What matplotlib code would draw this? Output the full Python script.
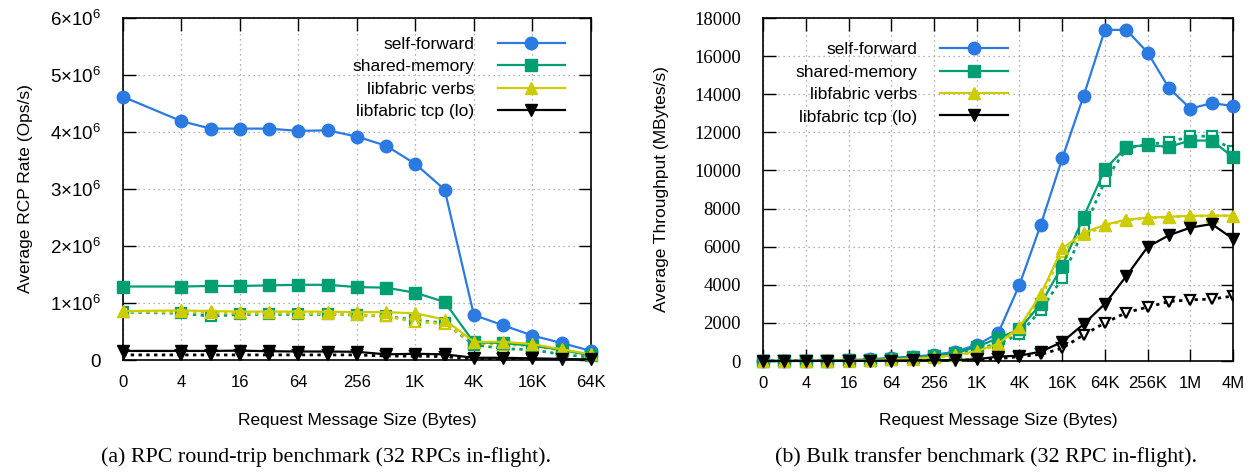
import matplotlib
matplotlib.use("Agg")
import matplotlib.pyplot as plt
import numpy as np

plt.rcParams['font.family'] = ['Liberation Sans', 'DejaVu Sans']
plt.rcParams['mathtext.fontset'] = 'custom'
plt.rcParams['mathtext.rm'] = 'Liberation Sans'
plt.rcParams['mathtext.it'] = 'Liberation Sans:italic'

# message sizes (bytes)
sizes_a = [0, 4, 8, 16, 32, 64, 128, 256, 512, 1024, 2048, 4096, 8192, 16384, 32768, 65536]
sizes_b = [0] + [2 ** k for k in range(1, 23)]

labels_a = ['0', '4', '16', '64', '256', '1K', '4K', '16K', '64K']
labels_b = ['0', '4', '16', '64', '256', '1K', '4K', '16K', '64K', '256K', '1M', '4M']

# (a) RPC rate, millions of ops/s
self_a = [4.62, 4.19, 4.06, 4.06, 4.06, 4.02, 4.03, 3.92, 3.76, 3.44, 2.99, 0.79, 0.61, 0.43, 0.30, 0.16]
shm_a = [1.29, 1.29, 1.30, 1.30, 1.31, 1.32, 1.32, 1.28, 1.27, 1.18, 1.02, 0.31, 0.30, 0.25, 0.18, 0.08]
shm_a_dash = [0.84, 0.82, 0.77, 0.80, 0.80, 0.80, 0.80, 0.79, 0.77, 0.70, 0.65, 0.27, 0.20, 0.18, 0.10, 0.05]
verbs_a = [0.86, 0.87, 0.86, 0.85, 0.85, 0.85, 0.85, 0.84, 0.84, 0.82, 0.71, 0.32, 0.32, 0.28, 0.19, 0.10]
verbs_a_dash = [0.85, 0.84, 0.83, 0.82, 0.82, 0.82, 0.81, 0.79, 0.77, 0.67, 0.64, 0.30, 0.27, 0.25, 0.17, 0.09]
tcp_a = [0.16, 0.16, 0.16, 0.165, 0.155, 0.15, 0.15, 0.145, 0.10, 0.11, 0.10, 0.04, 0.04, 0.03, 0.02, 0.01]
tcp_a_dash = [0.09, 0.09, 0.09, 0.09, 0.09, 0.09, 0.09, 0.09, 0.07, 0.07, 0.06, 0.02, 0.02, 0.015, 0.01, 0.005]

# (b) bulk throughput, MBytes/s
self_b = [3, 6, 12, 25, 45, 90, 170, 230, 320, 490, 840, 1460, 4000, 7160, 10630, 13910,
          17380, 17380, 16190, 14320, 13250, 13530, 13390]
shm_b = [2, 4, 8, 15, 30, 60, 110, 190, 280, 400, 750, 1190, 1670, 3000, 4980, 7560,
         10060, 11240, 11330, 11240, 11570, 11570, 10700]
shm_b_dash = [2, 4, 7, 14, 28, 55, 100, 170, 250, 350, 650, 900, 1400, 2670, 4340, 6900,
              9440, 11150, 11380, 11480, 11800, 11800, 11020]
verbs_b = [1, 3, 6, 12, 25, 45, 85, 130, 200, 300, 520, 900, 1790, 3500, 5910, 6720,
           7150, 7420, 7520, 7570, 7620, 7630, 7630]
verbs_b_dash = [1, 3, 6, 12, 24, 44, 80, 125, 190, 280, 480, 850, 1700, 3300, 5700, 6600,
                7100, 7400, 7500, 7560, 7600, 7620, 7620]
tcp_b = [1, 2, 3, 5, 8, 12, 20, 30, 40, 50, 90, 230, 280, 490, 1000, 1930,
         3000, 4450, 5990, 6600, 7000, 7190, 6410]
tcp_b_dash = [1, 2, 3, 4, 6, 10, 15, 22, 30, 40, 60, 120, 230, 350, 670, 1370,
              2000, 2540, 2830, 3120, 3210, 3250, 3410]

names = ['self-forward', 'shared-memory', 'libfabric verbs', 'libfabric tcp (lo)']
colors = ['#2a7ae2', '#009e73', '#cccc00', '#000000']
markers = ['o', 's', '^', 'v']
msizes = [9, 8.5, 8.5, 8.5]
FS = 12.5


def pos(sizes):
    return np.log2(np.maximum(np.array(sizes, dtype=float), 1))


def style(ax, xlabels, nx):
    ax.set_xlim(0, nx)
    ax.set_xticks(np.arange(0, nx + 1, 2))
    ax.set_xticklabels(xlabels)
    ax.tick_params(direction='in', length=9, width=1.0, top=True, right=True,
                   labelsize=12)
    ax.tick_params(axis='x', pad=11)
    ax.tick_params(axis='y', pad=16)
    ax.grid(True, linestyle=(0, (1, 3)), color='#999999', linewidth=0.9)
    for s in ax.spines.values():
        s.set_linewidth(1.2)
    ax.set_xlabel('Request Message Size (Bytes)', fontsize=FS, labelpad=16)


def draw(ax, x, solid, dashed):
    handles = []
    for i in range(4):
        if dashed[i] is not None:
            ax.plot(x, dashed[i], color=colors[i], linestyle=(0, (1.2, 1.6)), linewidth=2,
                    marker=markers[i], markersize=msizes[i] - 1.5, mfc='white',
                    mec=colors[i], mew=1.6)
        h, = ax.plot(x, solid[i], color=colors[i], linewidth=1.6, marker=markers[i],
                     markersize=msizes[i], label=names[i], clip_on=False, zorder=3)
        handles.append(h)
    return handles


def legend(ax, handles, anchor):
    ax.legend(handles=handles, loc='upper right', bbox_to_anchor=anchor, frameon=False,
              markerfirst=False, fontsize=FS, handlelength=3.86, handletextpad=1.33,
              labelspacing=0.42, borderpad=0, borderaxespad=0)


fig = plt.figure(figsize=(12.51, 4.75), dpi=100)
ax1 = fig.add_axes([0.0983, 0.242, 0.374, 0.72])
ax2 = fig.add_axes([0.610, 0.240, 0.3757, 0.722])

xa = pos(sizes_a)
h1 = draw(ax1, xa, [np.array(v) * 1e6 for v in [self_a, shm_a, verbs_a, tcp_a]],
          [None] + [np.array(v) * 1e6 for v in [shm_a_dash, verbs_a_dash, tcp_a_dash]])
style(ax1, labels_a, 16)
ax1.set_ylim(0, 6e6)
ax1.set_yticks(np.arange(0, 7e6, 1e6))
ax1.set_yticklabels(['0'] + [r'$%d{\times}10^{6}$' % k for k in range(1, 7)], fontsize=13.5)
ax1.set_ylabel('Average RCP Rate (Ops/s)', fontsize=FS, labelpad=12)
legend(ax1, h1, (0.944, 0.945))

xb = pos(sizes_b)
h2 = draw(ax2, xb, [self_b, shm_b, verbs_b, tcp_b],
          [None, shm_b_dash, verbs_b_dash, tcp_b_dash])
style(ax2, labels_b, 22)
ax2.set_ylim(0, 18000)
ax2.set_yticks(np.arange(0, 18001, 2000))
for t in ax2.get_yticklabels():
    t.set_fontfamily('Liberation Serif')
    t.set_fontsize(13.5)
ax2.set_ylabel('Average Throughput (MBytes/s)', fontsize=FS, labelpad=18)
legend(ax2, h2, (0.52, 0.93))

fig.text(0.2606, 0.028, '(a) RPC round-trip benchmark (32 RPCs in-flight).',
         ha='center', fontsize=15.8, family='Liberation Serif')
fig.text(0.788, 0.028, '(b) Bulk transfer benchmark (32 RPC in-flight).',
         ha='center', fontsize=15.8, family='Liberation Serif')

fig.savefig('out.png', dpi=100)
